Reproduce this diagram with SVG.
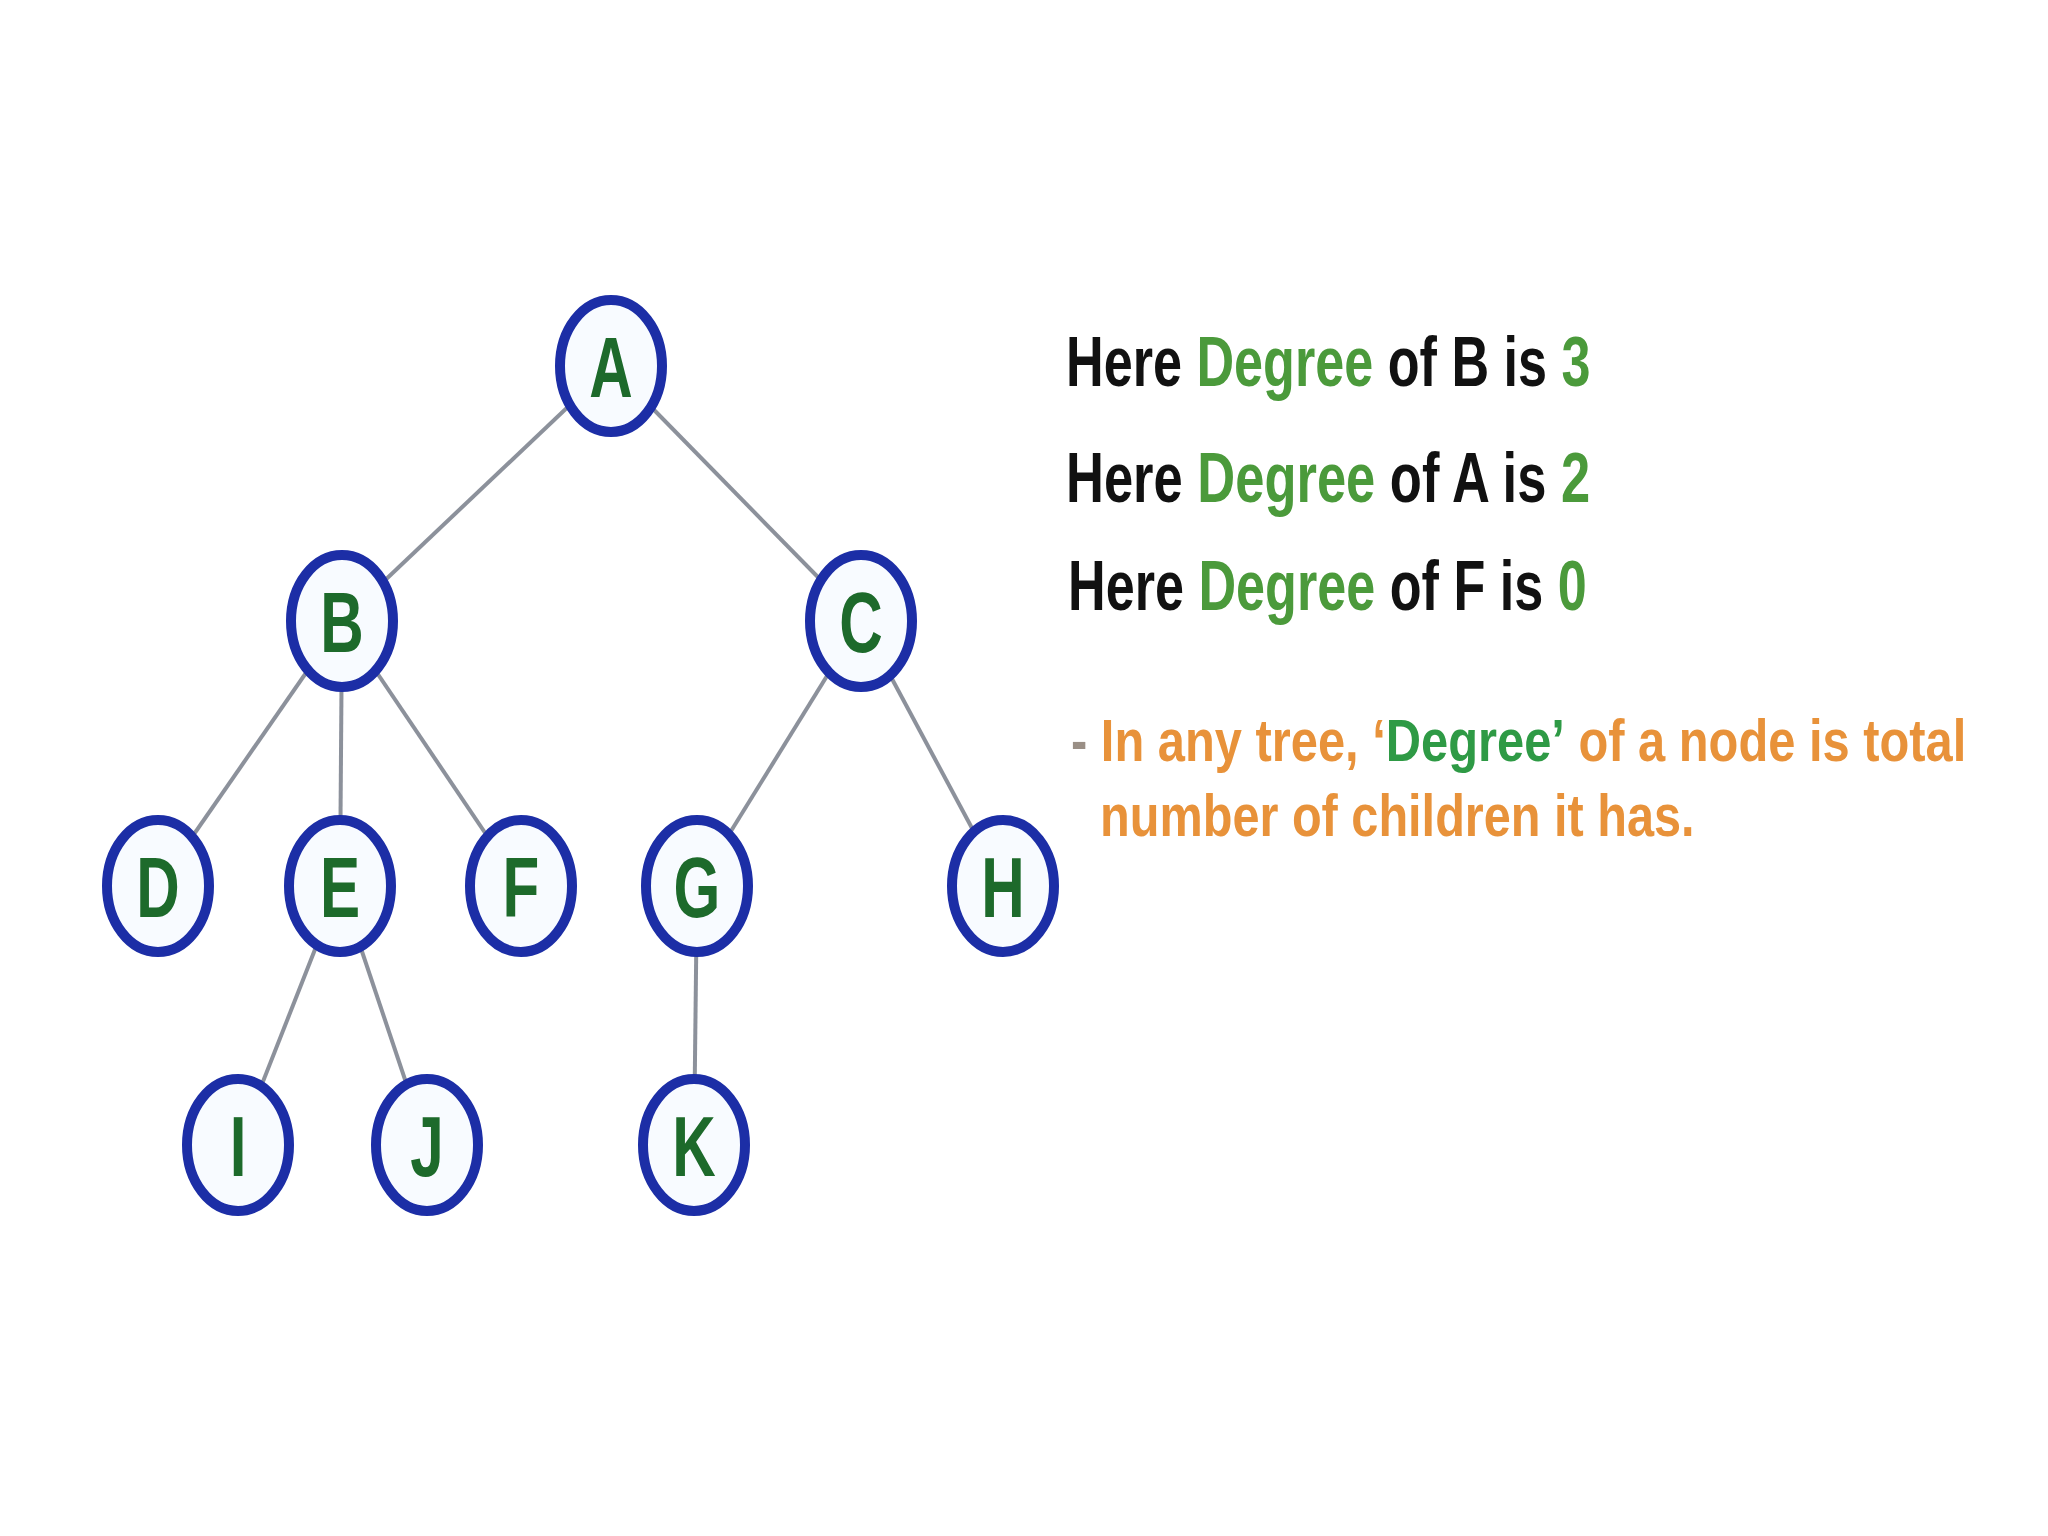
<svg xmlns="http://www.w3.org/2000/svg" width="2048" height="1536" viewBox="0 0 2048 1536">
<style>
.edge{stroke:#8c919b;stroke-width:4;fill:none}
.node ellipse{fill:#f8fbff;stroke:#1c2ea6;stroke-width:10}
.node text{font-family:"Liberation Sans",Arial,sans-serif;font-weight:bold;font-size:86px;fill:#1d6a2b;text-anchor:middle}
.info{font-family:"Liberation Sans",Arial,sans-serif;font-weight:bold;font-size:70px;fill:#111}
.g{fill:#4b9a3b}
.note{font-family:"Liberation Sans",Arial,sans-serif;font-weight:bold;font-size:60px;fill:#e8923a}
.note .dg{fill:#2e9a45}
</style>
<rect width="2048" height="1536" fill="#ffffff"/>
<g id="connectors">
<line class="edge" x1="611" y1="366" x2="342" y2="621"/>
<line class="edge" x1="611" y1="366" x2="861" y2="621"/>
<line class="edge" x1="342" y1="621" x2="158" y2="886"/>
<line class="edge" x1="342" y1="621" x2="340" y2="886"/>
<line class="edge" x1="342" y1="621" x2="521" y2="886"/>
<line class="edge" x1="861" y1="621" x2="697" y2="886"/>
<line class="edge" x1="861" y1="621" x2="1003" y2="886"/>
<line class="edge" x1="340" y1="886" x2="238" y2="1145"/>
<line class="edge" x1="340" y1="886" x2="427" y2="1145"/>
<line class="edge" x1="697" y1="886" x2="694" y2="1145"/>
</g>
<g id="node-A" class="node" transform="translate(611,366)"><ellipse rx="51" ry="66"/><text transform="scale(0.7,1)" y="31">A</text></g>
<g id="node-B" class="node" transform="translate(342,621)"><ellipse rx="51" ry="66"/><text transform="scale(0.7,1)" y="31">B</text></g>
<g id="node-C" class="node" transform="translate(861,621)"><ellipse rx="51" ry="66"/><text transform="scale(0.7,1)" y="31">C</text></g>
<g id="node-D" class="node" transform="translate(158,886)"><ellipse rx="51" ry="66"/><text transform="scale(0.7,1)" y="31">D</text></g>
<g id="node-E" class="node" transform="translate(340,886)"><ellipse rx="51" ry="66"/><text transform="scale(0.7,1)" y="31">E</text></g>
<g id="node-F" class="node" transform="translate(521,886)"><ellipse rx="51" ry="66"/><text transform="scale(0.7,1)" y="31">F</text></g>
<g id="node-G" class="node" transform="translate(697,886)"><ellipse rx="51" ry="66"/><text transform="scale(0.7,1)" y="31">G</text></g>
<g id="node-H" class="node" transform="translate(1003,886)"><ellipse rx="51" ry="66"/><text transform="scale(0.7,1)" y="31">H</text></g>
<g id="node-I" class="node" transform="translate(238,1145)"><ellipse rx="51" ry="66"/><text transform="scale(0.7,1)" y="31">I</text></g>
<g id="node-J" class="node" transform="translate(427,1145)"><ellipse rx="51" ry="66"/><text transform="scale(0.7,1)" y="31">J</text></g>
<g id="node-K" class="node" transform="translate(694,1145)"><ellipse rx="51" ry="66"/><text transform="scale(0.7,1)" y="31">K</text></g>
<g id="info">
<text class="info" transform="translate(1066,386) scale(0.745,1)">Here <tspan class="g">Degree</tspan> of B is <tspan class="g">3</tspan></text>
<text class="info" transform="translate(1066,502) scale(0.75,1)">Here <tspan class="g">Degree</tspan> of A is <tspan class="g">2</tspan></text>
<text class="info" transform="translate(1068,610) scale(0.745,1)">Here <tspan class="g">Degree</tspan> of F is <tspan class="g">0</tspan></text>
</g>
<g id="note">
<text class="note" transform="translate(1071,761) scale(0.814,1)"><tspan fill="#9a8f86">-</tspan> In any tree, ‘<tspan class="dg">Degree’</tspan> of a node is total</text>
<text class="note" transform="translate(1100,836) scale(0.811,1)">number of children it has.</text>
</g>
</svg>
